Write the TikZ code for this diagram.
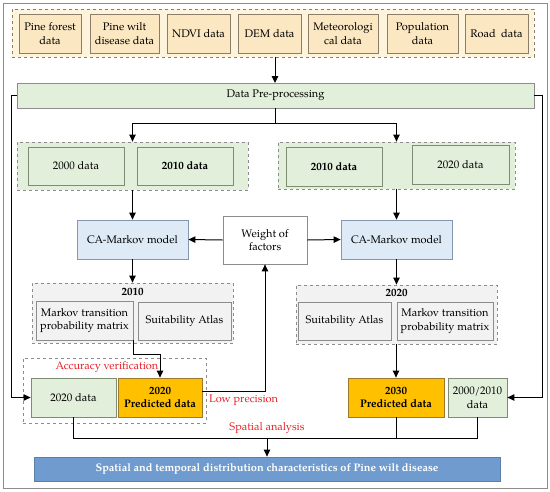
\documentclass[tikz,border=0pt]{standalone}
\usepackage{fontspec}
\setmainfont{TeX Gyre Pagella}
\usetikzlibrary{arrows.meta}
\definecolor{yelfill}{HTML}{FBE8C2}
\definecolor{yelgrp}{HTML}{FEF4DC}
\definecolor{yelline}{HTML}{8A7D6A}
\definecolor{grnfill}{HTML}{E2EFDA}
\definecolor{grnline}{HTML}{7F8C74}
\definecolor{blufill}{HTML}{DEEBF7}
\definecolor{bluline}{HTML}{8497B0}
\definecolor{gryfill}{HTML}{F2F2F2}
\definecolor{gryline}{HTML}{8C8C8C}
\definecolor{orgfill}{HTML}{FFC000}
\definecolor{orgline}{HTML}{9C7A2A}
\definecolor{finfill}{HTML}{6F9BCF}
\definecolor{finline}{HTML}{5A7FA8}
\definecolor{redtxt}{HTML}{E8202A}
\begin{document}
\begin{tikzpicture}[x=1pt,y=-1pt,
  font=\fontsize{11}{13.5}\selectfont,
  sz/.style 2 args={minimum width=#1pt, minimum height=#2pt},
  bx/.style={draw, inner sep=0pt, align=center, line width=0.8pt},
  yelbox/.style={bx, fill=yelfill, draw=yelline},
  yelgroup/.style={bx, fill=yelgrp, draw=yelline, dashed},
  grnbox/.style={bx, fill=grnfill, draw=grnline},
  grngroup/.style={bx, fill=grnfill, draw=gryline, dashed},
  blubox/.style={bx, fill=blufill, draw=bluline},
  grybox/.style={bx, fill=gryfill, draw=gryline},
  grygroup/.style={bx, fill=gryfill, draw=gryline, dashed},
  whtgroup/.style={bx, fill=white, draw=gryline, dashed},
  orgbox/.style={bx, fill=orgfill, draw=orgline, font=\fontsize{11}{13.5}\selectfont\bfseries},
  finbox/.style={bx, fill=finfill, draw=finline, text=white, font=\fontsize{11}{13.5}\selectfont\bfseries},
  whtbox/.style={bx, fill=white, draw=gryline},
  redlbl/.style={text=redtxt, inner sep=0pt},
  conn/.style={line width=1pt, black},
  arr/.style={conn, -{Triangle[length=7pt,width=6.5pt]}}
]
\useasboundingbox (0,0) rectangle (550,491);
\node[draw=gryline, line width=0.9pt, sz={544}{485}, inner sep=0pt] (frame) at (275,245.5) {};

% top data group
\node[yelgroup, sz={522}{48}] (topgrp) at (273,33) {};
\node[yelbox, sz={62}{39}] (pf) at (50,33.5) {Pine forest\\data};
\node[yelbox, sz={69}{39}] (pw) at (124.5,33.5) {Pine wilt\\disease data};
\node[yelbox, sz={63}{39}] (ndvi) at (198.5,33.5) {NDVI data};
\node[yelbox, sz={63}{39}] (dem) at (269.5,33.5) {DEM data};
\node[yelbox, sz={70}{39}] (met) at (343,33.5) {Meteorologi\\cal data};
\node[yelbox, sz={71}{39}] (pop) at (422.5,33.5) {Population\\data};
\node[yelbox, sz={63}{39}] (road) at (496.5,33.5) {Road\ \ data};

% preprocessing
\node[grnbox, draw=gryline, sz={517}{25}] (dpp) at (275.5,95.5) {Data Pre-processing};
\draw[arr] (275,57) -- (275,83);

% green groups
\node[grngroup, sz={231}{48}] (gl) at (132.5,166) {};
\node[grnbox, sz={96}{38}] (d2000) at (76,166) {2000 data};
\node[grnbox, sz={96}{38}, font=\fontsize{11}{13.5}\selectfont\bfseries] (d2010a) at (185,166) {2010 data};
\node[grngroup, sz={237}{47}] (gr) at (396.5,165.5) {};
\node[grnbox, sz={96}{39}, font=\fontsize{11}{13.5}\selectfont\bfseries] (d2010b) at (334,166.5) {2010 data};
\node[grnbox, sz={97}{39}] (d2020) at (460.5,164.5) {2020 data};

\coordinate (split) at (275,123);
\draw[conn] (dpp.south -| split) -- (split);
\draw[arr] (split) -| (gl.north);
\draw[arr] (split) -| (gr.north);

% CA-Markov
\node[blubox, sz={111}{39}] (cal) at (132.5,239.5) {CA-Markov model};
\node[blubox, sz={111}{39}] (car) at (396.5,239.5) {CA-Markov model};
\node[whtbox, sz={84}{48}] (weight) at (265,240) {Weight of\\factors};
\draw[arr] (gl.south) -- (cal.north);
\draw[arr] (gr.south) -- (car.north);
\draw[arr] (weight.west) -- (cal.east);
\draw[arr] (weight.east) -- (car.east -| car.west);

% gray groups
\node[grygroup, sz={201}{60}] (gyl) at (132.5,313) {};
\node[font=\fontsize{11}{13.5}\selectfont\bfseries, inner sep=0pt] (lbl2010) at (132.5,292) {2010};
\node[grybox, sz={97}{39}] (mtpl) at (84.5,320.5) {Markov transition\\probability matrix};
\node[grybox, sz={93}{38}] (sal) at (184.5,321) {Suitability Atlas};
\node[grygroup, sz={201}{59}] (gyr) at (396.5,314.5) {};
\node[font=\fontsize{11}{13.5}\selectfont\bfseries, inner sep=0pt] (lbl2020) at (396.5,293) {2020};
\node[grybox, sz={93}{38}] (sar) at (344.5,321) {Suitability Atlas};
\node[grybox, sz={96}{38}] (mtpr) at (445,321) {Markov transition\\probability matrix};
\draw[arr] (cal.south) -- (gyl.north);
\draw[arr] (car.south) -- (gyr.north);

% accuracy verification
\node[whtgroup, sz={183}{65}] (acc) at (114.5,390.5) {};
\node[redlbl] (acclbl) at (107,367) {Accuracy verification};
\node[grnbox, sz={85}{39}] (d2020l) at (73.5,397.5) {2020 data};
\node[orgbox, sz={84}{39}] (p2020) at (160,397.5) {2020\\Predicted data};
\draw[arr] (mtpl.south east) -- ++(0,14) -| (p2020.north);

% right predictions
\node[orgbox, sz={96}{39}] (p2030) at (396,397.5) {2030\\Predicted data};
\node[grnbox, sz={59}{39}] (d0010) at (477.5,397.5) {2000/2010\\data};
\draw[arr] (gyr.south -| p2030.north) -- (p2030.north);

% low precision
\draw[arr] ([yshift=6.5pt]p2020.east) -| (weight.south);
\node[redlbl, anchor=west] (lowlbl) at (209,400) {Low precision};

% side lines
\draw[arr] (dpp.west) -- (11,95.5) |- (d2020l.west);
\draw[arr] (dpp.east) -- (542,95.5) |- (d0010.east);

% final
\node[finbox, sz={466}{24}] (final) at (267,469) {Spatial and temporal distribution characteristics of Pine wilt disease};
\coordinate (join) at (267,438);
\draw[conn] (d2020l.south) |- (join);
\draw[conn] (p2030.south) |- (join);
\draw[conn] (d0010.south) |- (p2030.south |- join);
\draw[arr] (join) -- (final.north);
\node[redlbl] (spalbl) at (267,428) {Spatial analysis};
\end{tikzpicture}
\end{document}
